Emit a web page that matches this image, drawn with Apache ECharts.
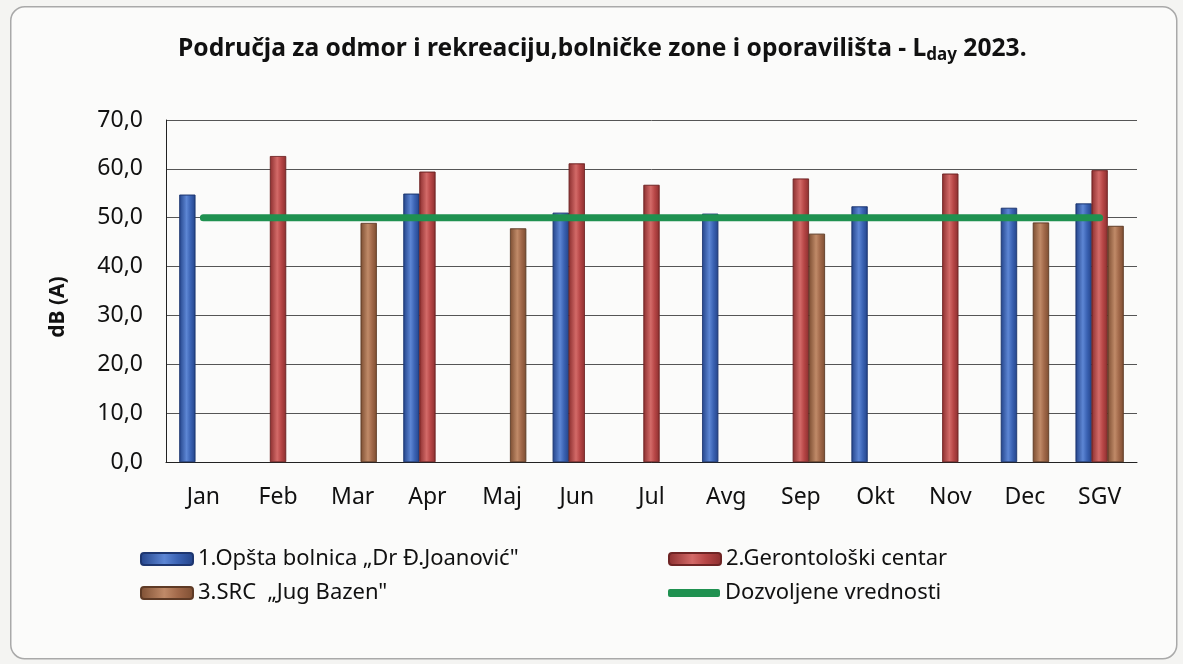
<!DOCTYPE html>
<html>
<head>
<meta charset="utf-8">
<script src="https://cdn.jsdelivr.net/npm/echarts@6/dist/echarts.min.js"></script>
<style>
  html, body { margin: 0; padding: 0; background: #f4f4f2; }
  #chart { width: 1183px; height: 664px; }
</style>
</head>
<body>
<div id="chart"></div>
<script>
// mjeseci + godisnji prosjek
const categories = ["Jan", "Feb", "Mar", "Apr", "Maj", "Jun", "Jul", "Avg", "Sep", "Okt", "Nov", "Dec", "SGV"];
const bolnica = [54.7, null, null, 54.9, null, 51.0, null, 50.8, null, 52.3, null, 52.0, 52.9];
const gerontoloski = [null, 62.6, null, 59.4, null, 61.1, 56.7, null, 58.0, null, 59.0, null, 59.7];
const jugBazen = [null, null, 48.9, null, 47.8, null, null, null, 46.7, null, null, 49.0, 48.3];
const dozvoljene = [50, 50, 50, 50, 50, 50, 50, 50, 50, 50, 50, 50, 50];
const yTicks = [0, 10, 20, 30, 40, 50, 60, 70];

const FONT = "'Noto Sans', sans-serif";

// valjak efekt - horizontalni gradijent
const cyl = (dark, mid, light) => ({
  type: "linear", x: 0, y: 0, x2: 1, y2: 0,
  colorStops: [
    { offset: 0, color: dark },
    { offset: 0.45, color: light },
    { offset: 0.7, color: mid },
    { offset: 1, color: dark },
  ],
});

const chart = echarts.init(document.getElementById("chart"));

const legendText = { fontFamily: FONT, fontSize: 22, color: "#111" };

const options = {
  backgroundColor: "#f4f4f2",
  graphic: [
    {
      type: "rect",
      left: 10, top: 6,
      shape: { width: 1166, height: 652, r: 14 },
      style: { fill: "#fbfbfa", stroke: "#a9a9a9", lineWidth: 1.5 },
      z: -10,
    },
    {
      type: "text",
      x: 58, y: 307,
      rotation: Math.PI / 2,
      style: {
        text: "dB (A)",
        fontFamily: FONT, fontSize: 21, fontWeight: "bold", fill: "#111",
        align: "center", verticalAlign: "middle",
      },
    },
  ],
  title: {
    text: "{t|Područja za odmor i rekreaciju,bolničke zone i oporavilišta - L}{s|day}{t| 2023.}",
    left: 173,
    top: 29,
    textStyle: {
      rich: {
        t: { fontFamily: FONT, fontSize: 24.6, fontWeight: "bold", color: "#111" },
        s: { fontFamily: FONT, fontSize: 17, fontWeight: "bold", color: "#111", verticalAlign: "bottom", padding: [13, 0, 0, 0] },
      },
    },
  },
  grid: { left: 166, right: 46, top: 120, bottom: 202 },
  legend: [
    { data: ["1.Opšta bolnica „Dr Đ.Joanović\""], left: 135, top: 543 },
    { data: ["2.Gerontološki centar"], left: 663, top: 543 },
    { data: ["3.SRC  „Jug Bazen\""], left: 135, top: 577 },
    { data: [{ name: "Dozvoljene vrednosti", icon: "roundRect" }], left: 663, top: 577, itemHeight: 8 },
  ].map((l) => Object.assign({ itemWidth: 52, itemHeight: 12, itemGap: 4, textStyle: legendText }, l)),
  xAxis: {
    type: "category",
    data: categories,
    axisLine: { lineStyle: { color: "#222", width: 1 } },
    axisTick: { show: false },
    axisLabel: { fontFamily: FONT, fontSize: 23, color: "#111", margin: 24 },
  },
  yAxis: {
    type: "value",
    min: 0,
    max: 70,
    interval: 10,
    axisLine: { show: true, lineStyle: { color: "#222", width: 1 } },
    axisTick: { show: false },
    splitLine: { lineStyle: { color: "#555", width: 1 } },
    axisLabel: {
      fontFamily: FONT, fontSize: 23, color: "#111", margin: 23,
      formatter: (v) => (yTicks.includes(v) ? v.toFixed(1).replace(".", ",") : ""),
    },
  },
  series: [
    {
      name: "1.Opšta bolnica „Dr Đ.Joanović\"",
      type: "bar",
      data: bolnica,
      barWidth: 16,
      barGap: "0%",
      itemStyle: { color: cyl("#24448a", "#3b63b4", "#5d86d4"), borderColor: "#1d3670", borderWidth: 0.6 },
    },
    {
      name: "2.Gerontološki centar",
      type: "bar",
      data: gerontoloski,
      barWidth: 16,
      barGap: "0%",
      itemStyle: { color: cyl("#8c2f2f", "#b74646", "#d36a68"), borderColor: "#6e2424", borderWidth: 0.6 },
    },
    {
      name: "3.SRC  „Jug Bazen\"",
      type: "bar",
      data: jugBazen,
      barWidth: 16,
      barGap: "0%",
      itemStyle: { color: cyl("#7d4e32", "#a2694a", "#c08a68"), borderColor: "#5e3a25", borderWidth: 0.6 },
    },
    {
      name: "Dozvoljene vrednosti",
      type: "line",
      data: dozvoljene,
      symbol: "none",
      lineStyle: { color: "#1f9150", width: 7, cap: "round" },
      itemStyle: { color: "#1f9150" },
      z: 5,
    },
  ],
};

chart.setOption(options);
window.addEventListener("resize", () => {
  chart.resize();
});
</script>
</body>
</html>
